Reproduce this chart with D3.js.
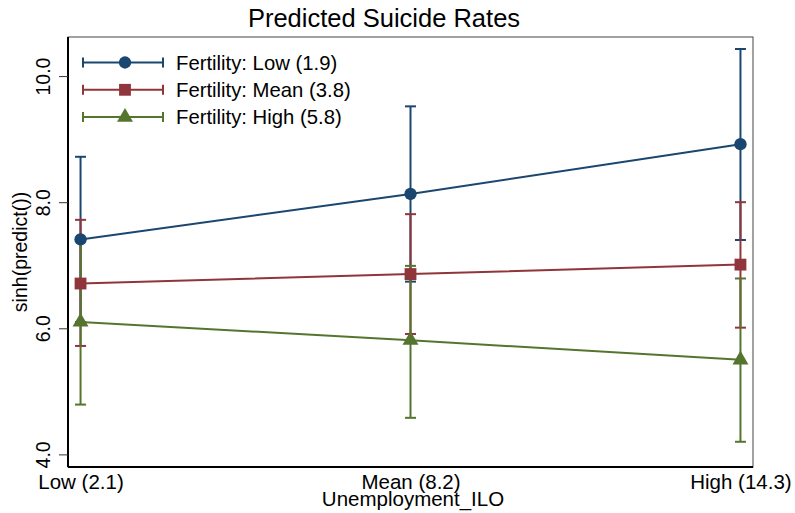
<!DOCTYPE html>
<html>
<head>
<meta charset="utf-8">
<script src="https://cdn.jsdelivr.net/npm/d3@7"></script>
<style>
  body { margin: 0; background: #fff; }
  text { font-family: "Liberation Sans", Arial, sans-serif; fill: #000; }
</style>
</head>
<body>
<div id="chart"></div>
<script>
// unemployment levels on the x axis
var categories = ["Low (2.1)", "Mean (8.2)", "High (14.3)"];
var yTicks = [4, 6, 8, 10];

// one entry per fertility level
var seriesNames = ["Fertility: Low (1.9)", "Fertility: Mean (3.8)", "Fertility: High (5.8)"];
var seriesColors = ["#1a476f", "#90353b", "#55752f"];
var seriesShapes = ["circle", "square", "triangle"];

var predLow  = [7.41, 8.13, 8.92];
var ciLowLo  = [6.10, 6.74, 7.40];
var ciLowHi  = [8.72, 9.52, 10.43];

var predMean = [6.71, 6.86, 7.01];
var ciMeanLo = [5.72, 5.91, 6.01];
var ciMeanHi = [7.72, 7.81, 8.00];

var predHigh = [6.10, 5.81, 5.50];
var ciHighLo = [4.79, 4.58, 4.20];
var ciHighHi = [7.41, 6.99, 6.79];

var width = 795, height = 513;
var plotL = 68, plotR = 753, plotT = 37, plotB = 467;

var svg = d3.select("#chart").append("svg")
    .attr("width", width)
    .attr("height", height);

var x = d3.scalePoint()
    .domain(categories)
    .range([plotL, plotR])
    .padding(0.038);

var y = d3.scaleLinear()
    .domain([3.8, 10.62])
    .range([plotB, plotT]);

function makeSeries(i, pred, lo, hi) {
  return {
    name: seriesNames[i], color: seriesColors[i], shape: seriesShapes[i],
    values: categories.map(function (c, j) {
      return { cat: c, y: pred[j], lo: lo[j], hi: hi[j] };
    })
  };
}
var data = [
  makeSeries(0, predLow, ciLowLo, ciLowHi),
  makeSeries(1, predMean, ciMeanLo, ciMeanHi),
  makeSeries(2, predHigh, ciHighLo, ciHighHi)
];

// plot frame (top/right thin, axes thicker)
svg.append("rect")
    .attr("x", plotL).attr("y", plotT)
    .attr("width", plotR - plotL).attr("height", plotB - plotT)
    .attr("fill", "none").attr("stroke", "#444").attr("stroke-width", 1);

// y axis
var yAxis = svg.append("g")
    .attr("transform", "translate(" + plotL + ",0)")
    .call(d3.axisLeft(y).tickValues(yTicks).tickSize(9).tickFormat(d3.format(".1f")));
yAxis.select(".domain").attr("stroke", "#000").attr("stroke-width", 2)
    .attr("d", "M0," + plotT + "V" + plotB);
yAxis.selectAll(".tick line").attr("stroke", "#333").attr("stroke-width", 1);
yAxis.selectAll(".tick text")
    .attr("font-size", 19.5)
    .attr("font-family", "Liberation Sans, Arial, sans-serif")
    .attr("fill", "#000")
    .attr("transform", "rotate(-90)")
    .attr("x", 0).attr("y", -18)
    .attr("dy", 0)
    .attr("text-anchor", "middle");

// x axis
var xAxis = svg.append("g")
    .attr("transform", "translate(0," + plotB + ")")
    .call(d3.axisBottom(x).tickSize(0).tickPadding(0));
xAxis.select(".domain").attr("stroke", "#000").attr("stroke-width", 2)
    .attr("d", "M" + plotL + ",0H" + plotR);
xAxis.selectAll(".tick text")
    .attr("font-size", 20.5)
    .attr("font-family", "Liberation Sans, Arial, sans-serif")
    .attr("fill", "#000")
    .attr("y", 22).attr("dy", 0);

// titles
svg.append("text")
    .attr("x", 384).attr("y", 27)
    .attr("text-anchor", "middle")
    .attr("font-size", 25.5)
    .text("Predicted Suicide Rates");

svg.append("text")
    .attr("x", 413).attr("y", 506)
    .attr("text-anchor", "middle")
    .attr("font-size", 20.5)
    .text("Unemployment_ILO");

svg.append("text")
    .attr("transform", "translate(27," + ((plotT + plotB) / 2) + ") rotate(-90)")
    .attr("text-anchor", "middle")
    .attr("font-size", 19.5)
    .text("sinh(predict())");

// confidence intervals
var capW = 5.5;
data.forEach(function (s) {
  var g = svg.append("g").attr("stroke", s.color).attr("stroke-width", 2);
  s.values.forEach(function (d) {
    var cx = x(d.cat);
    g.append("line").attr("x1", cx).attr("x2", cx).attr("y1", y(d.lo)).attr("y2", y(d.hi));
    g.append("line").attr("x1", cx - capW).attr("x2", cx + capW).attr("y1", y(d.lo)).attr("y2", y(d.lo));
    g.append("line").attr("x1", cx - capW).attr("x2", cx + capW).attr("y1", y(d.hi)).attr("y2", y(d.hi));
  });
});

var symbols = {
  circle: d3.symbol().type(d3.symbolCircle).size(120),
  square: d3.symbol().type(d3.symbolSquare).size(140),
  triangle: d3.symbol().type(d3.symbolTriangle).size(110)
};

var line = d3.line()
    .x(function (d) { return x(d.cat); })
    .y(function (d) { return y(d.y); });

data.forEach(function (s) {
  svg.append("path")
      .attr("d", line(s.values))
      .attr("fill", "none")
      .attr("stroke", s.color)
      .attr("stroke-width", 2);
  svg.selectAll(null).data(s.values).enter()
      .append("path")
      .attr("d", symbols[s.shape])
      .attr("transform", function (d) { return "translate(" + x(d.cat) + "," + y(d.y) + ")"; })
      .attr("fill", s.color);
});

// legend
var legend = svg.append("g");
data.forEach(function (s, i) {
  var ly = 62.5 + i * 27.3;
  var g = legend.append("g").attr("stroke", s.color).attr("stroke-width", 2);
  g.append("line").attr("x1", 83).attr("x2", 163).attr("y1", ly).attr("y2", ly);
  g.append("line").attr("x1", 83).attr("x2", 83).attr("y1", ly - 5).attr("y2", ly + 5);
  g.append("line").attr("x1", 163).attr("x2", 163).attr("y1", ly - 5).attr("y2", ly + 5);
  legend.append("path")
      .attr("d", symbols[s.shape])
      .attr("transform", "translate(125," + ly + ")")
      .attr("fill", s.color);
  legend.append("text")
      .attr("x", 176).attr("y", ly + 7)
      .attr("font-size", 20.3)
      .text(s.name);
});
</script>
</body>
</html>
